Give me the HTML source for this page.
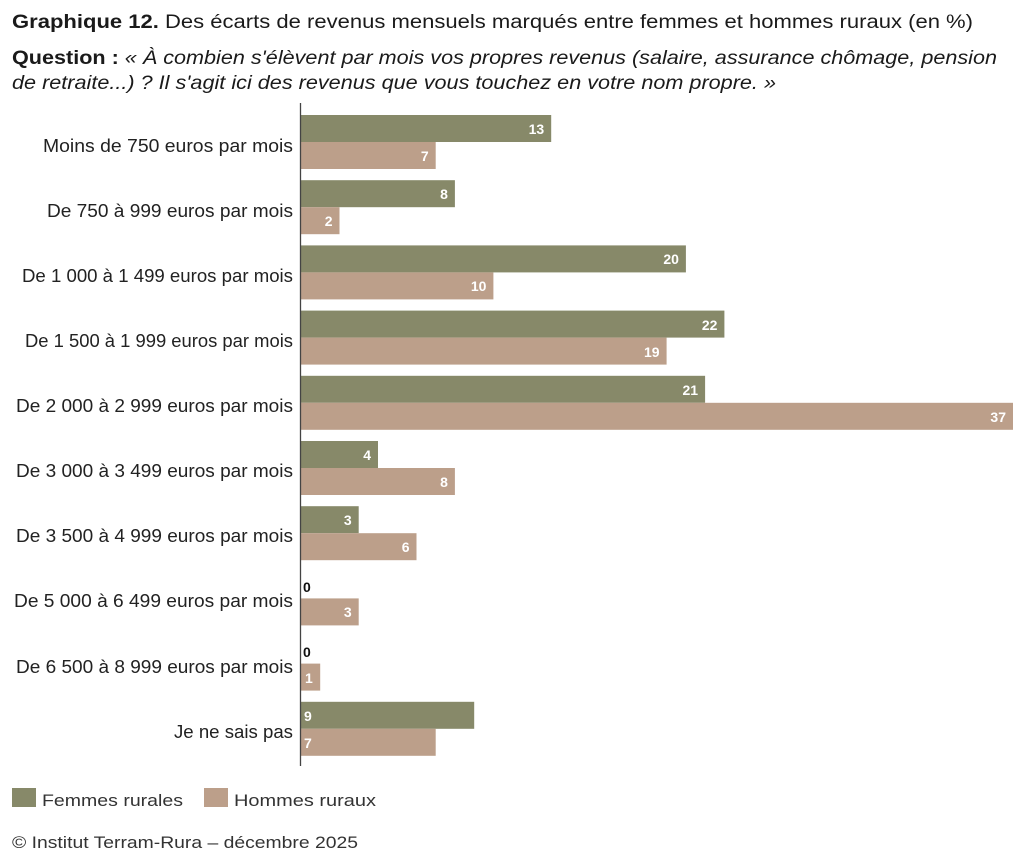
<!DOCTYPE html>
<html><head><meta charset="utf-8"><style>
html,body{margin:0;padding:0;background:#fff;}
svg{display:block;font-family:"Liberation Sans",sans-serif;}
</style></head><body>
<svg width="1024" height="859" viewBox="0 0 1024 859" xmlns="http://www.w3.org/2000/svg">
<text x="12" y="28" font-size="19" fill="#1a1a1a" textLength="961" lengthAdjust="spacingAndGlyphs"><tspan font-weight="bold">Graphique 12.</tspan> Des écarts de revenus mensuels marqués entre femmes et hommes ruraux (en %)</text>
<text x="12" y="64" font-size="19" fill="#1a1a1a" textLength="985" lengthAdjust="spacingAndGlyphs"><tspan font-weight="bold">Question :</tspan> <tspan font-style="italic">« À combien s'élèvent par mois vos propres revenus (salaire, assurance chômage, pension</tspan></text>
<text x="12" y="89" font-size="19" fill="#1a1a1a" font-style="italic" textLength="764" lengthAdjust="spacingAndGlyphs">de retraite...) ? Il s'agit ici des revenus que vous touchez en votre nom propre. »</text>

<g font-size="18" fill="#222" text-anchor="end" lengthAdjust="spacingAndGlyphs">
<text x="293" y="152" textLength="250" lengthAdjust="spacingAndGlyphs">Moins de 750 euros par mois</text>
<text x="293" y="217" textLength="246" lengthAdjust="spacingAndGlyphs">De 750 à 999 euros par mois</text>
<text x="293" y="282" textLength="271" lengthAdjust="spacingAndGlyphs">De 1 000 à 1 499 euros par mois</text>
<text x="293" y="347" textLength="268" lengthAdjust="spacingAndGlyphs">De 1 500 à 1 999 euros par mois</text>
<text x="293" y="412" textLength="277" lengthAdjust="spacingAndGlyphs">De 2 000 à 2 999 euros par mois</text>
<text x="293" y="477" textLength="277" lengthAdjust="spacingAndGlyphs">De 3 000 à 3 499 euros par mois</text>
<text x="293" y="542" textLength="277" lengthAdjust="spacingAndGlyphs">De 3 500 à 4 999 euros par mois</text>
<text x="293" y="607" textLength="279" lengthAdjust="spacingAndGlyphs">De 5 000 à 6 499 euros par mois</text>
<text x="293" y="673" textLength="277" lengthAdjust="spacingAndGlyphs">De 6 500 à 8 999 euros par mois</text>
<text x="293" y="738" textLength="119" lengthAdjust="spacingAndGlyphs">Je ne sais pas</text>
</g>

<g fill="#878969">
<rect x="301" y="115" width="250.2" height="27"/>
<rect x="301" y="180.2" width="153.9" height="27"/>
<rect x="301" y="245.4" width="384.9" height="27"/>
<rect x="301" y="310.6" width="423.4" height="27"/>
<rect x="301" y="375.8" width="404.1" height="27"/>
<rect x="301" y="441" width="77" height="27"/>
<rect x="301" y="506.2" width="57.7" height="27"/>
<rect x="301" y="701.8" width="173.2" height="27"/>
</g>
<g fill="#bc9f8a">
<rect x="301" y="142" width="134.7" height="27"/>
<rect x="301" y="207.2" width="38.5" height="27"/>
<rect x="301" y="272.4" width="192.4" height="27"/>
<rect x="301" y="337.6" width="365.6" height="27"/>
<rect x="301" y="402.8" width="712" height="27"/>
<rect x="301" y="468" width="153.9" height="27"/>
<rect x="301" y="533.2" width="115.5" height="27"/>
<rect x="301" y="598.4" width="57.7" height="27"/>
<rect x="301" y="663.6" width="19.2" height="27"/>
<rect x="301" y="728.8" width="134.7" height="27"/>
</g>

<g font-size="14" font-weight="bold" fill="#fff" text-anchor="end">
<text x="544.2" y="134">13</text>
<text x="428.7" y="161">7</text>
<text x="447.9" y="199">8</text>
<text x="332.5" y="226">2</text>
<text x="678.9" y="264">20</text>
<text x="486.4" y="291">10</text>
<text x="717.4" y="330">22</text>
<text x="659.6" y="357">19</text>
<text x="698.1" y="395">21</text>
<text x="1006" y="422">37</text>
<text x="371" y="460">4</text>
<text x="447.9" y="487">8</text>
<text x="351.7" y="525">3</text>
<text x="409.5" y="552">6</text>
<text x="351.7" y="617">3</text>
</g>
<g font-size="14" font-weight="bold" text-anchor="start">
<text x="303" y="592" fill="#111">0</text>
<text x="303" y="657" fill="#111">0</text>
<text x="305" y="683" fill="#fff">1</text>
<text x="304" y="721" fill="#fff">9</text>
<text x="304" y="748" fill="#fff">7</text>
</g>

<line x1="300.5" y1="103" x2="300.5" y2="766" stroke="#444" stroke-width="1.3"/>
<rect x="12" y="788" width="24" height="19" fill="#878969"/>
<text x="42" y="806" font-size="17" fill="#333" textLength="141" lengthAdjust="spacingAndGlyphs">Femmes rurales</text>
<rect x="204" y="788" width="24" height="19" fill="#bc9f8a"/>
<text x="234" y="806" font-size="17" fill="#333" textLength="142" lengthAdjust="spacingAndGlyphs">Hommes ruraux</text>
<text x="12" y="848" font-size="17" fill="#333" textLength="346" lengthAdjust="spacingAndGlyphs">© Institut Terram-Rura – décembre 2025</text>
</svg>
</body></html>
